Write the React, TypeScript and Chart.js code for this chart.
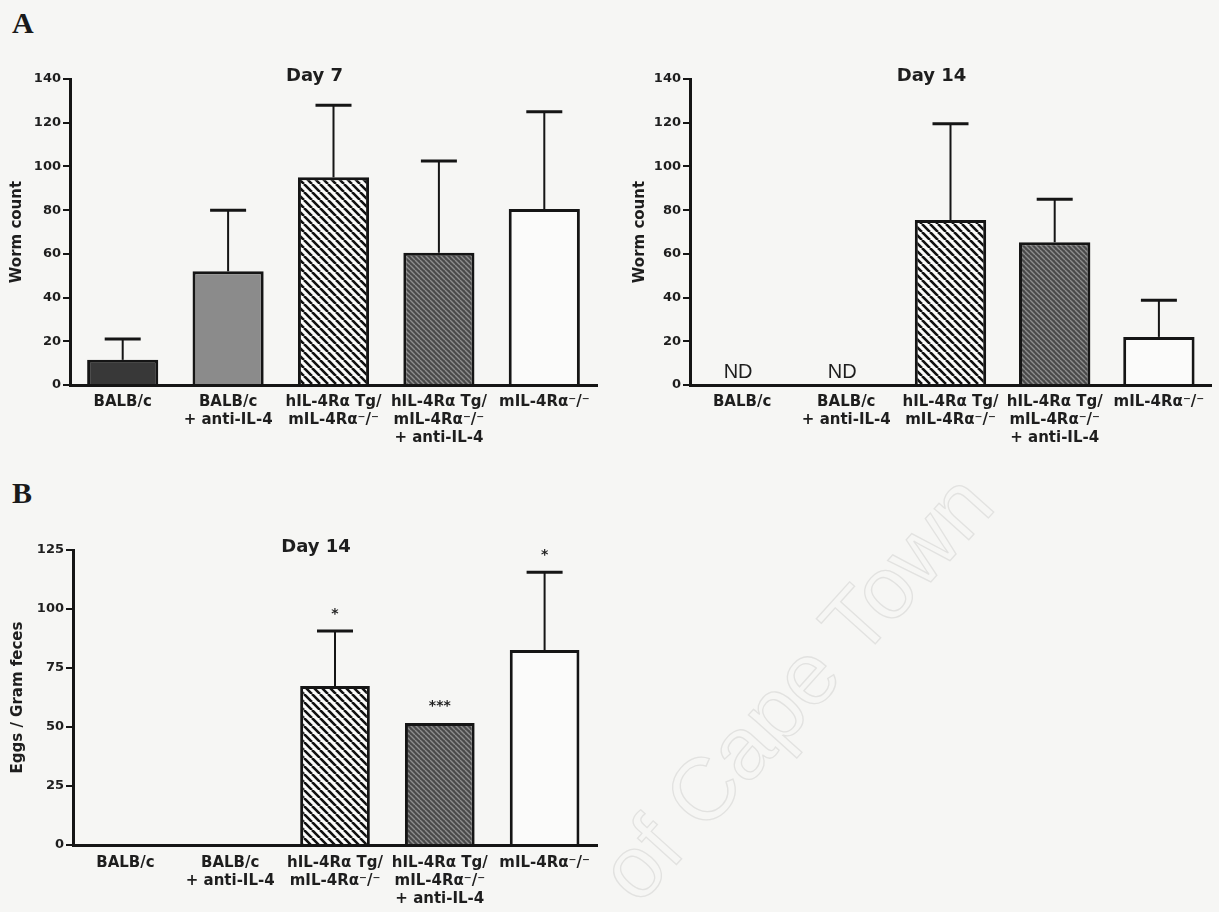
import React, { useEffect, useRef } from 'react';
import { Chart, registerables } from 'chart.js';

Chart.register(...registerables);

// ---------- data ----------
const GROUP_LABELS: string[][] = [
  ['BALB/c'],
  ['BALB/c', '+ anti-IL-4'],
  ['hIL-4Rα Tg/', 'mIL-4Rα⁻/⁻'],
  ['hIL-4Rα Tg/', 'mIL-4Rα⁻/⁻', '+ anti-IL-4'],
  ['mIL-4Rα⁻/⁻'],
];

const WORM_MAX = 140;
const WORM_STEP = 20;
const EGG_MAX = 125;
const EGG_STEP = 25;

const DAY7_WORMS: (number | null)[] = [11.5, 52, 95, 60.5, 80.5];
const DAY7_SEM: (number | null)[] = [9.5, 28, 33, 42, 44.5];
const DAY7_NOTES: string[] = ['', '', '', '', ''];

const DAY14_WORMS: (number | null)[] = [null, null, 75.5, 65.3, 22];
const DAY14_SEM: (number | null)[] = [null, null, 44, 19.7, 16.8];
const DAY14_NOTES: string[] = ['ND', 'ND', '', '', ''];

const EGGS: (number | null)[] = [null, null, 67.4, 51.7, 82.6];
const EGGS_SEM: (number | null)[] = [null, null, 23.3, 0, 33];
const EGGS_SIG: string[] = ['', '', '*', '***', '*'];

// ---------- styles ----------
const INK = '#151515';
const TEXT = '#1e1e1e';
const PAPER = '#f6f6f4';
const SANS = "'DejaVu Sans', 'Liberation Sans', Arial, sans-serif";

function stripes(bg: string, fg: string, s: number, lw: number) {
  const c = document.createElement('canvas');
  c.width = s;
  c.height = s;
  const g = c.getContext('2d')!;
  g.fillStyle = bg;
  g.fillRect(0, 0, s, s);
  g.strokeStyle = fg;
  g.lineWidth = lw;
  g.beginPath();
  for (const k of [-s, 0, s]) {
    g.moveTo(k, 0);
    g.lineTo(k + s, s);
  }
  g.stroke();
  return g.createPattern(c, 'repeat')!;
}

type PanelProps = {
  left: number;
  top: number;
  width: number;
  height: number;
  values: (number | null)[];
  sem: (number | null)[];
  notes: string[];
  noteKind: 'nd' | 'star';
  title: string;
  yTitle: string;
  yMax: number;
  yStep: number;
  padLeft: number;
  padTop: number;
  padRight: number;
  yWidth: number;
  xHeight: number;
  barPct: number;
  tickPadX: number;
};

function Panel(p: PanelProps) {
  const ref = useRef<HTMLCanvasElement | null>(null);

  useEffect(() => {
    const canvas = ref.current;
    if (!canvas) return;
    const fills = [
      '#383838',
      '#8b8b8b',
      stripes('#fbfbfa', '#111111', 8, 2.6),
      stripes('#4a4a4a', '#8e8e8e', 5, 1.4),
      '#fbfbfa',
    ];

    const overlay = {
      id: 'overlay',
      afterDatasetsDraw(chart: any) {
        const ctx = chart.ctx as CanvasRenderingContext2D;
        const xs = chart.scales.x;
        const ys = chart.scales.y;
        const area = chart.chartArea;
        ctx.save();
        // title
        ctx.fillStyle = TEXT;
        ctx.font = `bold 18px ${SANS}`;
        ctx.textAlign = 'center';
        ctx.textBaseline = 'alphabetic';
        ctx.fillText(p.title, (area.left + area.right) / 2 - 19, area.top + 1.5);

        p.values.forEach((v, i) => {
          const x = xs.getPixelForValue(i);
          const e = p.sem[i];
          let topPix = ys.getPixelForValue(0);
          if (v != null) {
            const yTop = ys.getPixelForValue(v);
            topPix = yTop;
            if (e) {
              const yErr = ys.getPixelForValue(v + e);
              ctx.strokeStyle = INK;
              ctx.lineWidth = 2;
              ctx.beginPath();
              ctx.moveTo(x, yTop);
              ctx.lineTo(x, yErr);
              ctx.stroke();
              ctx.lineWidth = 3;
              ctx.beginPath();
              ctx.moveTo(x - 18, yErr);
              ctx.lineTo(x + 18, yErr);
              ctx.stroke();
              topPix = yErr;
            }
          }
          const note = p.notes[i];
          if (note) {
            if (p.noteKind === 'nd') {
              ctx.font = `20px 'Liberation Sans', Arial, sans-serif`;
              ctx.fillStyle = TEXT;
              ctx.textAlign = 'center';
              ctx.textBaseline = 'alphabetic';
              ctx.fillText(note, x - 4, ys.getPixelForValue(0) - 7);
            } else {
              ctx.font = `bold 14px ${SANS}`;
              ctx.fillStyle = TEXT;
              ctx.textAlign = 'center';
              ctx.textBaseline = 'middle';
              ctx.fillText(note, x, topPix - 17);
            }
          }
        });
        ctx.restore();
      },
    };

    const chart = new Chart(canvas, {
      type: 'bar',
      data: {
        labels: GROUP_LABELS,
        datasets: [
          {
            data: p.values,
            backgroundColor: fills as any,
            borderColor: INK,
            borderWidth: 3,
            barPercentage: p.barPct,
            categoryPercentage: 1,
          },
        ],
      },
      options: {
        responsive: false,
        animation: false,
        devicePixelRatio: 1,
        layout: { padding: { left: p.padLeft, top: p.padTop, right: p.padRight, bottom: 0 } },
        plugins: {
          legend: { display: false },
          tooltip: { enabled: false },
          title: { display: false },
        },
        scales: {
          x: {
            grid: { display: false, drawTicks: false },
            border: { display: true, color: INK, width: 3 },
            ticks: {
              color: TEXT,
              font: { family: SANS, weight: 'bold', size: 15, lineHeight: 1.2 },
              padding: p.tickPadX,
              maxRotation: 0,
              minRotation: 0,
              autoSkip: false,
            },
            afterFit: (s: any) => {
              s.height = p.xHeight;
            },
          },
          y: {
            min: 0,
            max: p.yMax,
            ticks: {
              stepSize: p.yStep,
              color: TEXT,
              font: { family: SANS, weight: 'bold', size: 13 },
              padding: 2,
            },
            grid: { drawOnChartArea: false, drawTicks: true, tickLength: 7, color: INK, lineWidth: 2 },
            border: { display: true, color: INK, width: 3 },
            title: {
              display: true,
              text: p.yTitle,
              color: TEXT,
              font: { family: SANS, weight: 'bold', size: 15, lineHeight: 1.2 },
              padding: { top: 8, bottom: 0 },
            },
            afterFit: (s: any) => {
              s.width = p.yWidth;
            },
          },
        },
      } as any,
      plugins: [overlay],
    });
    return () => chart.destroy();
  }, []);

  return (
    <canvas
      ref={ref}
      width={p.width}
      height={p.height}
      style={{ position: 'absolute', left: p.left, top: p.top, width: p.width, height: p.height }}
    />
  );
}

export default function App() {
  const letter: React.CSSProperties = {
    position: 'absolute',
    fontFamily: "'Liberation Serif', 'Times New Roman', serif",
    fontWeight: 'bold',
    fontSize: 30,
    lineHeight: 1,
    color: '#1a1a1a',
  };
  return (
    <div
      style={{
        position: 'absolute',
        left: 0,
        top: 0,
        width: 1219,
        height: 912,
        background: PAPER,
        overflow: 'hidden',
      }}
    >
      <div
        style={{
          position: 'absolute',
          left: 640,
          top: 832,
          fontFamily: "'Liberation Sans', Arial, sans-serif",
          fontSize: 88,
          lineHeight: 1,
          whiteSpace: 'nowrap',
          color: 'transparent',
          WebkitTextStroke: '1.3px #e2e2e0',
          transformOrigin: '0px 76px',
          transform: 'rotate(-48deg)',
        } as any}
      >
        of Cape Town
      </div>
      <div style={{ ...letter, left: 12, top: 8 }}>A</div>
      <div style={{ ...letter, left: 12, top: 478 }}>B</div>
      <Panel
        left={0}
        top={40}
        width={620}
        height={420}
        values={DAY7_WORMS}
        sem={DAY7_SEM}
        notes={DAY7_NOTES}
        noteKind="nd"
        title="Day 7"
        yTitle="Worm count"
        yMax={WORM_MAX}
        yStep={WORM_STEP}
        padLeft={0}
        padTop={39}
        padRight={23}
        yWidth={70}
        xHeight={75}
        barPct={0.675}
        tickPadX={8}
      />
      <Panel
        left={610}
        top={40}
        width={609}
        height={420}
        values={DAY14_WORMS}
        sem={DAY14_SEM}
        notes={DAY14_NOTES}
        noteKind="nd"
        title="Day 14"
        yTitle="Worm count"
        yMax={WORM_MAX}
        yStep={WORM_STEP}
        padLeft={13}
        padTop={39}
        padRight={8}
        yWidth={67}
        xHeight={75}
        barPct={0.685}
        tickPadX={8}
      />
      <Panel
        left={0}
        top={470}
        width={620}
        height={442}
        values={EGGS}
        sem={EGGS_SEM}
        notes={EGGS_SIG}
        noteKind="star"
        title="Day 14"
        yTitle="Eggs / Gram feces"
        yMax={EGG_MAX}
        yStep={EGG_STEP}
        padLeft={1}
        padTop={80}
        padRight={23}
        yWidth={72}
        xHeight={67}
        barPct={0.665}
        tickPadX={9}
      />
    </div>
  );
}
